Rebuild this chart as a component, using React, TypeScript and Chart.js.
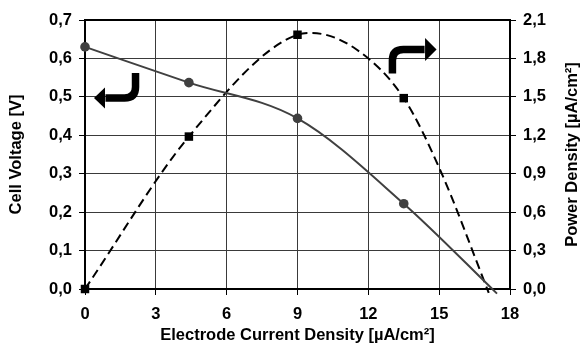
import { useEffect, useRef } from 'react';
import { Chart, registerables } from 'chart.js';

Chart.register(...registerables);

// Measured points (markers)
const currentDensity = [0, 4.4, 9, 13.5];
const cellVoltage = [0.63, 0.537, 0.444, 0.222];
const powerDensity = [0, 1.19, 1.985, 1.49];

// Fitted trend curves (drawn without markers)
const voltageCurveX = [0, 4.4, 9, 13.5, 17.45];
const voltageCurveY = [0.63, 0.537, 0.444, 0.222, -0.012];
const powerCurveX = [0, 4.4, 9, 9.6, 11.5, 13.5, 15.04, 17.1];
const powerCurveY = [0, 1.19, 1.985, 1.998, 1.87, 1.49, 0.93, -0.03];

const xTickLabels = ['0', '3', '6', '9', '12', '15', '18'];
const voltageTickLabels = ['0,0', '0,1', '0,2', '0,3', '0,4', '0,5', '0,6', '0,7'];
const powerTickLabels = ['0,0', '0,3', '0,6', '0,9', '1,2', '1,5', '1,8', '2,1'];

const xTitle = 'Electrode Current Density [µA/cm²]';
const yTitle = 'Cell Voltage [V]';
const y1Title = 'Power Density [µA/cm²]';

// Arrow annotations in data coordinates of (x, voltage) axes
const leftArrow = { stemX: 2.14, stemTop: 0.562, level: 0.497, tipX: 0.38 };
const rightArrow = { stemX: 13.02, stemBottom: 0.561, level: 0.623, tipX: 14.89 };

const FONT = '"Liberation Sans", Arial, Helvetica, sans-serif';
const FONT_SIZE = 16.5;

const annotPlugin = {
  id: 'annot',
  beforeDatasetsDraw(chart: any) {
    const { ctx, chartArea } = chart;
    const { left, top, right, bottom } = chartArea;
    ctx.save();
    ctx.strokeStyle = '#000';
    ctx.lineWidth = 2;
    ctx.strokeRect(left, top, right - left, bottom - top);
    ctx.restore();
  },
  afterDraw(chart: any) {
    const { ctx, chartArea } = chart;
    const xs = chart.scales.x;
    const ys = chart.scales.y;
    const px = (v: number) => xs.getPixelForValue(v);
    const py = (v: number) => ys.getPixelForValue(v);
    ctx.save();
    ctx.strokeStyle = '#000';
    ctx.fillStyle = '#000';
    ctx.lineWidth = 7.5;
    ctx.lineCap = 'butt';
    ctx.lineJoin = 'round';
    const r = 11;
    {
      const sx = px(leftArrow.stemX);
      const st = py(leftArrow.stemTop);
      const hy = py(leftArrow.level);
      const tx = px(leftArrow.tipX);
      const bx = tx + 11;
      ctx.beginPath();
      ctx.moveTo(sx, st);
      ctx.lineTo(sx, hy - r);
      ctx.quadraticCurveTo(sx, hy, sx - r, hy);
      ctx.lineTo(bx + 0.5, hy);
      ctx.stroke();
      ctx.beginPath();
      ctx.moveTo(tx, hy);
      ctx.lineTo(bx, hy - 10.5);
      ctx.lineTo(bx, hy + 10.5);
      ctx.closePath();
      ctx.fill();
    }
    {
      const sx = px(rightArrow.stemX);
      const sb = py(rightArrow.stemBottom);
      const hy = py(rightArrow.level);
      const tx = px(rightArrow.tipX);
      const bx = tx - 11.5;
      ctx.beginPath();
      ctx.moveTo(sx, sb);
      ctx.lineTo(sx, hy + r);
      ctx.quadraticCurveTo(sx, hy, sx + r, hy);
      ctx.lineTo(bx - 0.5, hy);
      ctx.stroke();
      ctx.beginPath();
      ctx.moveTo(tx, hy);
      ctx.lineTo(bx, hy - 11.5);
      ctx.lineTo(bx, hy + 11.5);
      ctx.closePath();
      ctx.fill();
    }
    ctx.font = `bold ${FONT_SIZE}px ${FONT}`;
    ctx.textAlign = 'center';
    ctx.textBaseline = 'middle';
    ctx.translate(572, (chartArea.top + chartArea.bottom) / 2);
    ctx.rotate(-Math.PI / 2);
    ctx.fillText(y1Title, 0, 0);
    ctx.restore();
  },
};

export default function App() {
  const ref = useRef<HTMLCanvasElement | null>(null);
  useEffect(() => {
    if (!ref.current) return;
    const pts = (xs: number[], ys: number[]) => xs.map((x, i) => ({ x, y: ys[i] }));

    const tickFont = { family: FONT, size: FONT_SIZE, weight: 'bold' as const };
    const gridColor = '#3a3a3a';

    const chart = new Chart(ref.current, {
      type: 'line',
      data: {
        datasets: [
          {
            label: 'Cell Voltage fit',
            data: pts(voltageCurveX, voltageCurveY),
            yAxisID: 'y',
            borderColor: '#404040',
            borderWidth: 2,
            pointRadius: 0,
            cubicInterpolationMode: 'monotone',
            clip: 8,
          },
          {
            label: 'Power Density fit',
            data: pts(powerCurveX, powerCurveY),
            yAxisID: 'y1',
            borderColor: '#000',
            borderWidth: 2,
            borderDash: [9, 5],
            pointRadius: 0,
            cubicInterpolationMode: 'monotone',
            clip: 8,
          },
          {
            label: 'Cell Voltage',
            data: pts(currentDensity, cellVoltage),
            yAxisID: 'y',
            showLine: false,
            backgroundColor: '#404040',
            pointStyle: 'circle',
            pointRadius: 4.8,
            pointBorderWidth: 0,
            clip: 8,
          },
          {
            label: 'Power Density',
            data: pts(currentDensity, powerDensity),
            yAxisID: 'y1',
            showLine: false,
            backgroundColor: '#000',
            pointStyle: 'rect',
            pointRadius: 6,
            pointBorderWidth: 0,
            clip: 8,
          },
        ],
      },
      options: {
        responsive: false,
        animation: false,
        events: [],
        layout: { padding: { top: 20, left: 0, right: 0, bottom: 0 } },
        plugins: { legend: { display: false }, tooltip: { enabled: false } },
        scales: {
          x: {
            type: 'linear',
            min: 0,
            max: 18,
            afterFit: (s: any) => { s.height = 65; },
            ticks: {
              stepSize: 3,
              color: '#000',
              font: tickFont,
              padding: 10,
              callback: (_v: any, i: number) => xTickLabels[i],
            },
            grid: { color: gridColor, lineWidth: 1, tickColor: '#000', tickLength: 6 },
            border: { display: false },
            title: { display: true, text: xTitle, color: '#000', font: tickFont, padding: { top: 0, bottom: 9 } },
          },
          y: {
            type: 'linear',
            position: 'left',
            min: 0,
            max: 0.7,
            afterFit: (s: any) => { s.width = 85; },
            ticks: {
              stepSize: 0.1,
              color: '#000',
              font: tickFont,
              padding: 7,
              callback: (_v: any, i: number) => voltageTickLabels[i],
            },
            grid: { color: gridColor, lineWidth: 1, tickColor: '#000', tickLength: 6 },
            border: { display: false },
            title: { display: true, text: yTitle, color: '#000', font: tickFont, padding: { top: 7, bottom: 0 } },
          },
          y1: {
            type: 'linear',
            position: 'right',
            min: 0,
            max: 2.1,
            afterFit: (s: any) => { s.width = 72; },
            ticks: {
              stepSize: 0.3,
              color: '#000',
              font: tickFont,
              padding: 7,
              callback: (_v: any, i: number) => powerTickLabels[i],
            },
            grid: { drawOnChartArea: false, tickColor: '#000', tickLength: 6 },
            border: { display: false },
          },
        },
      },
      plugins: [annotPlugin],
    } as any);
    return () => chart.destroy();
  }, []);
  return (
    <div style={{ position: 'absolute', left: 0, top: 0, width: 582, height: 354 }}>
      <canvas ref={ref} width={582} height={354} style={{ width: 582, height: 354 }} />
    </div>
  );
}
